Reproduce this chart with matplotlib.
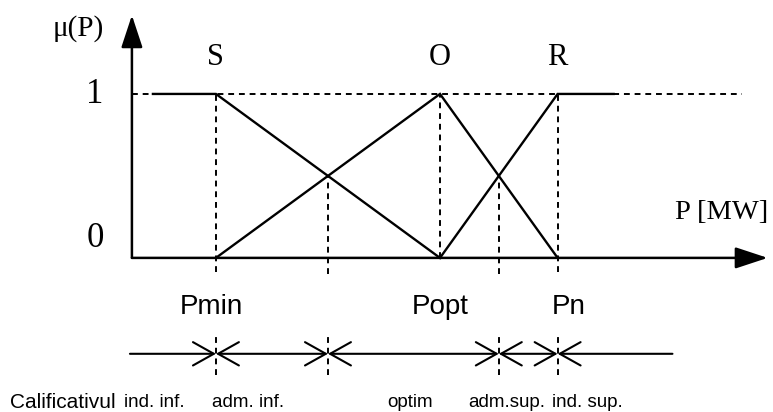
import matplotlib.pyplot as plt

# puncte caracteristice pe axa P (unitati arbitrare)
P_min, P_opt, P_n = 30, 110, 152
P_start, P_end = 7.5, 172

# functiile de apartenenta S, O, R
S_x = [P_start, P_min, P_opt]
S_y = [1, 1, 0]
O_x = [P_min, P_opt, P_n]
O_y = [0, 1, 0]
R_x = [P_opt, P_n, P_end]
R_y = [0, 1, 1]
fuzzy_labels = ["S", "O", "R"]
fuzzy_peaks = [P_min, P_opt, P_n]

point_labels = ["Pmin", "Popt", "Pn"]
point_x = [P_min - 1.5, P_opt, P_n + 4]

calif = ["ind. inf.", "adm. inf.", "optim", "adm.sup.", "ind. sup."]
calif_x = [7.9, 41.4, 99.3, 133.9, 162.5]

# intersectii (mijlocul intre varfuri)
c1 = (P_min + P_opt) / 2
c2 = (P_opt + P_n) / 2

serif = ["Liberation Serif", "DejaVu Serif"]
sans = ["Liberation Sans", "DejaVu Sans"]
dash = (0, (3, 2.5))

fig = plt.figure(figsize=(7.73, 4.12), dpi=100)
ax = fig.add_axes([0, 0, 1, 1])
ax.set_xlim(-47.1, 228.9)
ax.set_ylim(-0.94, 1.573)
ax.axis("off")

# linia punctata la nivelul 1
ax.plot([0, 218], [1, 1], color="k", lw=1.4, linestyle=dash)

# verticale punctate
ax.vlines([P_min, P_n], -0.085, 1, colors="k", lw=1.4, linestyles=dash)
ax.vlines([P_opt], 0, 1, colors="k", lw=1.4, linestyles=dash)
ax.vlines([c1, c2], -0.10, 0.5, colors="k", lw=1.4, linestyles=dash)

# functii de apartenenta
for xs, ys in [(S_x, S_y), (O_x, O_y), (R_x, R_y)]:
    ax.plot(xs, ys, color="k", lw=1.7, solid_joinstyle="miter")

# axe cu sageti
head = dict(arrowstyle="-|>,head_length=1.0,head_width=0.33", mutation_scale=20,
            lw=1.8, color="k", shrinkA=0, shrinkB=0)
ax.annotate("", xy=(227, 0), xytext=(0, 0), arrowprops=head)
ax.annotate("", xy=(0, 1.48), xytext=(0, 0), arrowprops=head)

# texte grafic
ax.text(-19.3, 1.396, "μ(P)", family=serif, fontsize=21, ha="center", va="center")
ax.text(-13.2, 0.994, "1", family=serif, fontsize=25, ha="center", va="center")
ax.text(-13.2, 0.12, "0", family=serif, fontsize=25, ha="center", va="center")
ax.text(210.4, 0.274, "P [MW]", family=serif, fontsize=20.5, ha="center", va="center")
for lab, xp in zip(fuzzy_labels, fuzzy_peaks):
    ax.text(xp, 1.22, lab, family=serif, fontsize=22, ha="center", va="center")

for lab, xp in zip(point_labels, point_x):
    ax.text(xp, -0.30, lab, family=sans, fontsize=20, ha="center", va="center")

# axa calificativelor
y_b = -0.585
bounds = [-0.7, P_min, c1, c2, P_n, 193]
for i in range(len(bounds) - 1):
    if i == 0:
        style = "->"
    elif i == len(bounds) - 2:
        style = "<-"
    else:
        style = "<->"
    ax.annotate("", xy=(bounds[i + 1], y_b), xytext=(bounds[i], y_b),
                arrowprops=dict(arrowstyle=style + ",head_length=0.75,head_width=0.42",
                                mutation_scale=20, lw=1.5, color="k",
                                shrinkA=0, shrinkB=0))
ax.vlines([P_min, c1, c2, P_n], -0.713, -0.457, colors="k", lw=1.4, linestyles=dash)

ax.text(-24.6, -0.884, "Calificativul", family=sans, fontsize=15, ha="center", va="center")
for lab, xp in zip(calif, calif_x):
    ax.text(xp, -0.884, lab, family=sans, fontsize=13.5, ha="center", va="center")

fig.savefig("out.png", dpi=100)
